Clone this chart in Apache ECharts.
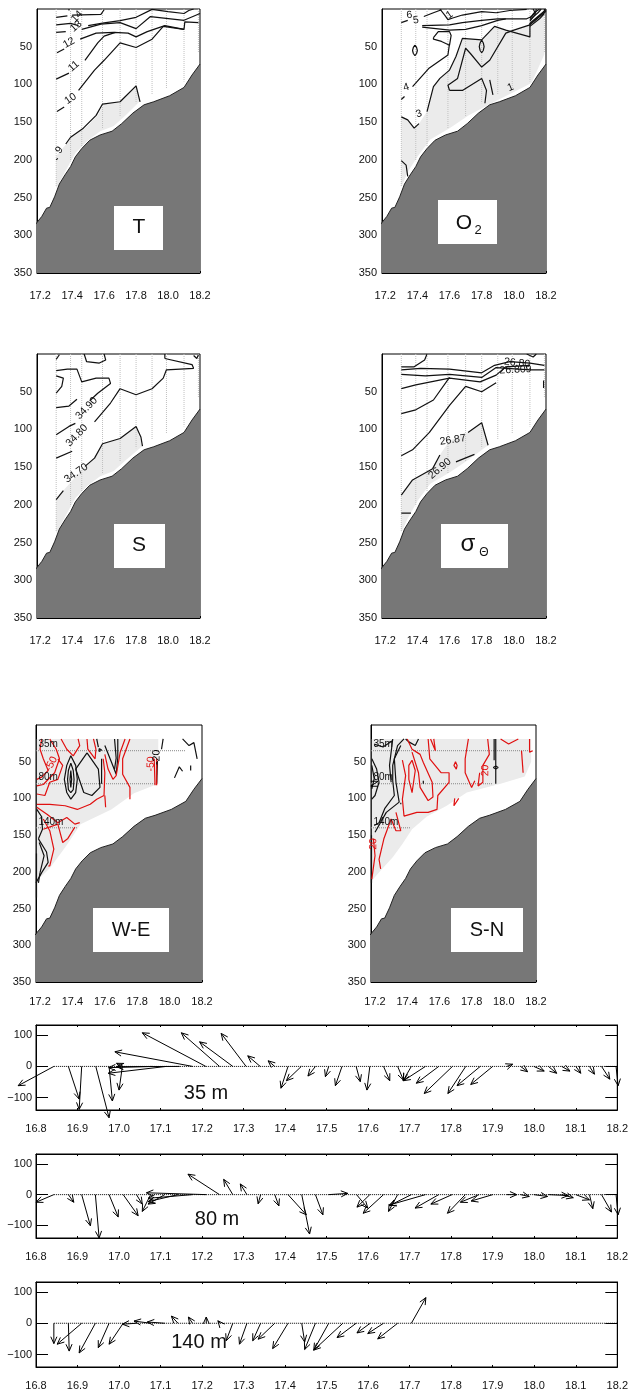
<!DOCTYPE html>
<html><head><meta charset="utf-8">
<style>html,body{margin:0;padding:0;background:#fff}#c{width:631px;height:1395px}</style>
<script src="https://cdn.jsdelivr.net/npm/echarts@6/dist/echarts.min.js"></script>
</head><body><div id="c"></div>
<script>
const sectionLonTicks=[17.2,17.4,17.6,17.8,18.0,18.2];
const depthTicks=[50,100,150,200,250,300,350];
const vectorLonTicks=[16.8,16.9,17.0,17.1,17.2,17.3,17.4,17.5,17.6,17.7,17.8,17.9,18.0,18.1,18.2];
const speedTicks=[-100,0,100];

const bathymetry=[[17.17,286],[17.18,283],[17.21,275],[17.24,264],[17.26,263],[17.29,249],[17.32,232],[17.355,220],[17.39,209],[17.42,196],[17.46,185],[17.51,174],[17.575,167],[17.65,162],[17.71,152],[17.78,138],[17.85,127],[17.91,123],[18.01,115],[18.10,104],[18.15,87.5],[18.2,73]];
const stations=[[17.30,235],[17.39,202],[17.46,182],[17.59,158],[17.70,143],[17.80,125],[17.90,114],[17.99,105],[18.10,96],[18.19,57]];

const tempShade=[[17.30,195],[17.36,180],[17.39,170],[17.48,158],[17.56,141],[17.60,126],[17.70,123],[17.80,102],[17.825,122],[17.74,140],[17.66,155],[17.575,162],[17.50,174],[17.42,191],[17.36,214],[17.30,238]];
const tempContours=[
[[17.30,11],[17.37,9]],[[17.40,8],[17.58,7],[17.60,1]],[[17.38,0],[17.38,2]],
[[17.30,21],[17.39,19],[17.44,22]],[[17.50,22],[17.60,18.5],[17.70,15.5],[17.80,11],[17.90,0.5],[18.0,3.5],[18.10,6],[18.13,2],[18.16,0]],
[[17.30,31],[17.36,30]],[[17.46,27],[17.58,20],[17.70,18],[17.80,26],[17.89,10],[18.10,15],[18.20,6]],
[[17.305,58],[17.35,53]],[[17.45,40],[17.55,32],[17.66,31],[17.75,32],[17.80,37],[17.87,30],[17.98,22],[18.10,27],[18.105,17],[18.19,18]],
[[17.30,93],[17.38,85]],[[17.48,68],[17.56,45],[17.60,36],[17.67,31]],
[[17.305,136],[17.35,130]],[[17.44,108],[17.54,81],[17.60,68],[17.70,45],[17.80,51],[17.90,40],[17.97,23],[18.10,27]],
[[17.36,179],[17.39,170],[17.47,158],[17.55,141],[17.59,126],[17.70,123],[17.80,102],[17.825,123]],[[17.30,200],[17.31,198]]];
const tempLabels=[[17.43,10,'14',0.8],[17.425,23,'13',0.7],[17.38,45,'12',0.5],[17.41,76,'11',0.7],[17.39,119,'10',0.6],[17.32,187,'9',0.9]];

const oxyShade=[[17.30,143],[17.34,147],[17.38,158],[17.41,152],[17.46,136],[17.5,103],[17.54,92],[17.6,81],[17.64,63],[17.68,39],[17.8,41],[17.88,23],[17.95,28],[18.0,28],[18.1,21],[18.19,3],[18.19,60],[18.11,98],[18.0,110],[17.87,124],[17.72,141],[17.6,158],[17.48,173],[17.4,196],[17.34,216],[17.30,236]];
const oxyContours=[
[[17.54,0],[17.57,8],[17.59,14],[17.62,12],[17.68,8],[17.8,3.5],[17.89,5],[17.975,2],[18.08,0.5]],
[[17.30,18],[17.34,15]],[[17.44,10],[17.50,5],[17.55,1]],
[[17.43,22],[17.6,21],[17.68,18],[17.8,15],[17.9,13],[17.97,13],[18.08,13],[18.11,10],[18.14,3],[18.16,0]],
[[17.43,24],[17.6,28],[17.7,27],[17.8,22],[17.9,15],[17.95,13]],
[[17.5,38],[17.53,30],[17.6,30],[17.61,35],[17.6,48],[17.55,43],[17.5,40],[17.5,38]],
[[17.385,48],[17.395,51],[17.40,55],[17.395,59],[17.385,62],[17.375,59],[17.37,55],[17.375,51],[17.385,48]],
[[17.8,41],[17.81,45],[17.815,50],[17.81,55],[17.8,58],[17.79,55],[17.785,50],[17.79,45],[17.8,41]],
[[17.30,120],[17.32,116]],[[17.37,103],[17.47,79],[17.59,61],[17.6,46]],
[[17.30,143],[17.34,147],[17.38,158],[17.41,152]],[[17.46,136],[17.5,103],[17.54,92],[17.6,81],[17.64,63],[17.68,39],[17.8,41],[17.88,23],[17.95,28],[18.1,37],[18.1,19],[18.2,1]],
[[17.6,108],[17.59,101],[17.65,92],[17.7,52],[17.73,59],[17.8,77],[17.85,68],[17.95,32],[18.0,28],[18.1,21],[18.2,3]],
[[17.6,108],[17.68,108],[17.8,92],[17.83,108],[17.82,125]],[[17.85,94],[17.87,114]],
[[18.1,16],[18.13,8],[18.14,0]],[[18.1,14],[18.15,5],[18.17,0]],[[18.1,12],[18.13,4],[18.12,0]],[[18.1,20],[18.15,11],[18.19,3],[18.19,0]],[[18.1,23],[18.16,13],[18.19,6]],
[[17.30,201],[17.33,207],[17.34,222]]];
const oxyLabels=[[17.35,8,'6',0.1],[17.39,15,'5',0.1],[17.6,8,'1',0.6],[17.33,104,'4',0.3],[17.41,139,'3',0.3],[17.98,104,'1',0.4]];

const salShade=[[17.3,193],[17.345,181],[17.48,149],[17.54,138],[17.59,119],[17.70,112],[17.80,96],[17.84,122],[17.74,140],[17.66,155],[17.575,162],[17.50,174],[17.42,191],[17.36,214],[17.30,238]];
const salContours=[
[[17.30,7],[17.32,1]],[[17.475,0],[17.49,10],[17.57,12],[17.61,8],[17.60,0]],[[17.98,0],[17.98,6]],[[18.16,2],[18.18,6],[18.19,1]],
[[17.98,6],[18.15,14],[18.16,19],[17.99,21],[17.97,32],[17.90,46],[17.8,54],[17.7,46],[17.64,65],[17.54,90]],[[17.40,129],[17.30,138]],
[[17.3,29],[17.345,32],[17.335,43],[17.3,52]],
[[17.30,22],[17.37,20],[17.43,20],[17.46,37],[17.55,32],[17.63,32],[17.64,39],[17.56,52],[17.51,62]],
[[17.30,71],[17.38,69],[17.43,60]],
[[17.30,107],[17.38,96],[17.42,92]],
[[17.30,193],[17.345,181]],[[17.48,149],[17.54,138],[17.59,119],[17.70,112],[17.80,96],[17.83,110],[17.84,122]]];
const salLabels=[[17.49,72,'34.90',0.8],[17.43,108,'34.80',0.8],[17.425,158,'34.70',0.6]];

const sigmaShade=[[17.3,187],[17.37,167],[17.495,152],[17.54,134],[17.6,115],[17.715,104],[17.8,91],[17.84,121],[17.72,140],[17.6,157],[17.48,172],[17.4,195],[17.34,218],[17.30,237]];
const sigmaContours=[
[[17.3,17],[17.38,17],[17.445,8],[17.46,0]],
[[17.3,21],[17.42,19],[17.6,20],[17.8,25],[17.88,15],[17.975,10],[18.1,12],[18.19,15]],
[[17.3,27],[17.45,29],[17.6,27],[17.8,31],[17.89,18],[18.1,21],[18.19,21]],
[[17.3,46],[17.39,41],[17.6,32],[17.79,37],[17.89,28],[17.95,17],[18.1,15]],
[[17.3,79],[17.39,74],[17.5,61],[17.6,31]],
[[17.3,135],[17.37,127],[17.475,104],[17.6,68],[17.7,43],[17.8,50],[17.89,38]],
[[17.3,187],[17.37,167],[17.495,152],[17.54,134]],[[17.715,104],[17.8,91],[17.84,121]],
[[17.64,143],[17.755,133]],[[17.3,211],[17.36,211]],
[[18.08,0],[18.12,4],[18.14,0]],[[18.185,35],[18.185,45]]];
const sigmaLabels=[[17.62,114,'26.87',0.15],[17.54,152,'26.90',0.7],[18.02,12,'26.80',-0.1],[18.01,21,'26.809',0.05]];

const weShade=[[17.18,19],[17.93,19],[17.93,80],[17.78,93],[17.64,115],[17.45,135],[17.36,165],[17.26,195],[17.18,212]];
const weBlack=[
[[17.39,42],[17.42,55],[17.43,74],[17.42,92],[17.39,101],[17.365,92],[17.35,74],[17.365,55],[17.39,42]],
[[17.39,52],[17.405,62],[17.41,74],[17.405,88],[17.39,92],[17.375,88],[17.37,74],[17.375,62],[17.39,52]],
[[17.39,62],[17.395,74],[17.39,85],[17.385,74],[17.39,62]],
[[17.49,38],[17.42,60],[17.47,92],[17.52,96],[17.57,85],[17.56,60],[17.49,38]],
[[17.58,46],[17.58,80]],[[17.55,19],[17.56,30]],
[[17.6,28],[17.64,50],[17.67,67],[17.68,45],[17.68,19]],[[17.66,19],[17.67,45],[17.66,60]],
[[17.565,32],[17.58,34],[17.565,36],[17.555,34],[17.565,32]],
[[17.925,49],[17.92,80]],[[17.96,19],[17.95,33]],[[18.08,19],[18.12,28],[18.15,24],[18.17,46]],
[[18.03,72],[18.06,57],[18.08,63]],[[18.13,55],[18.13,62]],
[[17.18,115],[17.21,125],[17.215,142],[17.19,155]],[[17.19,155],[17.24,173],[17.25,187],[17.21,201],[17.175,215]],
[[17.195,160],[17.225,178],[17.2,201]],[[17.2,201],[17.19,215]],[[17.178,175],[17.178,235]]];
const weRed=[
[[17.26,19],[17.30,33],[17.32,46],[17.29,65],[17.22,81],[17.18,83]],
[[17.21,19],[17.2,33],[17.22,46],[17.25,62],[17.21,71],[17.18,74]],
[[17.33,19],[17.365,33],[17.405,42],[17.445,28],[17.435,19]],
[[17.49,19],[17.495,33],[17.54,46],[17.545,33],[17.53,19]],
[[17.18,94],[17.23,96],[17.26,78],[17.31,74],[17.34,55],[17.31,46]],
[[17.18,108],[17.26,108],[17.355,110],[17.43,115],[17.51,108],[17.55,101],[17.595,96],[17.6,65],[17.59,46]],
[[17.725,19],[17.695,37],[17.67,69],[17.65,74],[17.62,60],[17.6,40]],
[[17.755,19],[17.71,46],[17.71,67],[17.755,85],[17.755,101]],
[[17.6,96],[17.605,112]],
[[17.18,112],[17.245,122],[17.31,133],[17.365,126],[17.415,135],[17.445,133]],
[[17.22,142],[17.31,135],[17.34,160],[17.37,155],[17.415,139]],
[[17.22,128],[17.26,144],[17.285,169],[17.26,192],[17.25,192]],
[[17.905,46],[17.91,82]],[[17.92,46],[17.92,82]]];
const weLabels=[[17.27,53,'-50',1.1,'#e01010'],[17.885,53,'-50',1.57,'#e01010'],[17.92,44,'-20',1.57,'#000']];

const snShade=[[17.18,19],[18.17,19],[18.17,50],[18.13,70],[17.98,80],[17.77,92],[17.645,110],[17.52,125],[17.43,142],[17.37,162],[17.31,180],[17.235,198],[17.18,212]];
const snBlack=[
[[17.18,46],[17.21,60],[17.225,78],[17.2,96],[17.18,101]],[[17.18,55],[17.195,73],[17.18,87]],
[[17.38,19],[17.34,28],[17.31,55],[17.31,76],[17.32,96],[17.26,114],[17.225,133],[17.195,137]],
[[17.36,28],[17.32,46],[17.33,78],[17.35,105],[17.27,119],[17.2,146]],
[[17.31,19],[17.29,55],[17.3,78]],[[17.47,19],[17.45,28],[17.41,23],[17.39,19]],
[[17.195,26],[17.25,30],[17.31,21]],[[17.95,19],[17.95,80]],[[17.94,19],[17.94,48]],
[[17.95,56],[17.965,58],[17.95,60],[17.935,58],[17.95,56]],[[17.178,150],[17.178,215]],
[[17.5,76],[17.5,80]],[[17.36,106],[17.36,108]]];
const snRed=[
[[17.4,19],[17.43,33],[17.48,40],[17.5,51],[17.555,78],[17.56,98],[17.53,103],[17.48,85],[17.47,65],[17.43,37]],
[[17.43,48],[17.45,62],[17.43,92],[17.41,74],[17.41,55],[17.43,48]],
[[17.37,48],[17.39,69],[17.37,101],[17.38,124],[17.46,119],[17.53,119],[17.585,115],[17.59,96],[17.66,78],[17.66,65],[17.61,65],[17.54,46],[17.53,19]],
[[17.565,19],[17.575,35],[17.545,19]],
[[17.78,19],[17.76,46],[17.76,65],[17.8,85],[17.82,76]],
[[17.9,19],[17.91,40],[17.87,55],[17.87,78],[17.84,83],[17.85,65]],
[[18.11,35],[18.12,65]],[[17.98,19],[18.03,26],[18.09,19]],[[18.16,19],[18.16,37],[18.18,35]],
[[17.7,50],[17.71,55],[17.705,60],[17.69,55],[17.7,50]],[[17.72,100],[17.69,110],[17.695,100]],
[[17.33,119],[17.36,144],[17.33,144],[17.30,128],[17.255,155],[17.225,183],[17.235,196]],
[[17.19,155],[17.2,178],[17.18,210]]];
const snLabels=[[17.885,62,'20',1.57,'#e01010'],[17.19,162,'20',1.57,'#e01010'],[17.2,80,'N',1.57,'#000']];

const weDepthLines=[[35,18.1],[80,17.92],[140,17.43]];
const snDepthLines=[[35,18.17],[80,17.93],[140,17.42]];
const depthLineNames=[[17.19,26,'35m'],[17.19,71,'80m'],[17.19,132,'140m']];

const arrows35=[[16.843,16.757,-62],[16.878,16.904,-105],[16.910,16.904,-138],[16.944,16.976,-165],[16.976,16.984,-111],[17.008,17.000,-76],[17.01,16.994,10],[17.146,16.994,-1],[17.114,16.974,-22],[17.08,16.975,-4],[17.177,16.990,47],[17.209,17.056,108],[17.242,17.150,108],[17.274,17.194,79],[17.306,17.246,106],[17.340,17.310,34],[17.375,17.359,18],[17.407,17.390,-70],[17.439,17.403,-46],[17.473,17.455,-31],[17.505,17.497,-33],[17.537,17.521,-62],[17.571,17.581,-49],[17.604,17.597,-76],[17.637,17.652,-46],[17.671,17.685,-44],[17.704,17.684,-46],[17.738,17.685,-46],[17.770,17.716,-54],[17.803,17.735,-87],[17.835,17.792,-87],[17.870,17.814,-62],[17.900,17.847,-58],[17.934,17.948,7],[17.967,17.984,-17],[17.999,18.024,-15],[18.034,18.054,-22],[18.066,18.086,-15],[18.100,18.112,-22],[18.133,18.145,-25],[18.162,18.182,-41],[18.197,18.202,-62]];
const arrows80=[[16.843,16.8,-25],[16.878,16.891,-25],[16.910,16.931,-102],[16.943,16.952,-142],[16.976,16.998,-73],[17.010,17.046,-69],[17.042,17.056,-31],[17.076,17.056,-55],[17.110,17.070,-31],[17.142,17.070,-23],[17.177,17.070,-12],[17.210,17.066,6],[17.242,17.166,67],[17.274,17.252,50],[17.308,17.292,35],[17.341,17.335,-30],[17.375,17.385,-37],[17.407,17.451,-66],[17.440,17.459,-129],[17.473,17.491,-66],[17.505,17.551,4],[17.604,17.573,-41],[17.572,17.599,-44],[17.637,17.588,-61],[17.671,17.649,-55],[17.704,17.651,-36],[17.738,17.651,-34],[17.770,17.713,-44],[17.802,17.751,-31],[17.834,17.791,-61],[17.867,17.822,-25],[17.900,17.848,-21],[17.934,17.958,0],[17.967,17.988,-6],[17.999,18.032,-6],[18.034,18.082,-3],[18.066,18.094,-10],[18.100,18.133,-17],[18.133,18.141,-46],[18.162,18.186,-57],[18.197,18.202,-66]];
const arrows140=[[16.843,16.843,-65],[16.910,16.851,-67],[16.878,16.880,-89],[16.943,16.904,-95],[16.976,16.950,-78],[17.010,16.976,-67],[17.042,17.008,-3],[17.076,17.036,7],[17.110,17.068,4],[17.142,17.126,23],[17.177,17.167,20],[17.210,17.210,20],[17.243,17.238,8],[17.274,17.258,-56],[17.308,17.290,-67],[17.341,17.322,-56],[17.375,17.335,-51],[17.407,17.370,-81],[17.440,17.447,-60],[17.473,17.447,-84],[17.505,17.469,-86],[17.539,17.469,-86],[17.571,17.525,-46],[17.605,17.573,-31],[17.637,17.599,-33],[17.671,17.623,-50],[17.704,17.739,82]];
const vectorStarts=[16.843,16.843,16.843];

const FONT='"Liberation Sans",Helvetica,Arial,sans-serif';
const INK='#111', RED='#e01010', SHADE='#ebebeb', LW=1.2;
const sections=[
 {l:37,r:200,t:9,b:273,min:17.18,m:17,shade:tempShade,lines:tempContours,labels:tempLabels,st:true},
 {l:382,r:546,t:9,b:273,min:17.18,m:17,shade:oxyShade,lines:oxyContours,labels:oxyLabels,st:true},
 {l:37,r:200,t:354,b:618,min:17.18,m:17,shade:salShade,lines:salContours,labels:salLabels,st:true},
 {l:382,r:546,t:354,b:618,min:17.18,m:17,shade:sigmaShade,lines:sigmaContours,labels:sigmaLabels,st:true},
 {l:36,r:202,t:725,b:982,min:17.175,m:14,shade:weShade,lines:weBlack,red:weRed,labels:weLabels,dl:weDepthLines},
 {l:371,r:536,t:725,b:982,min:17.175,m:14,shade:snShade,lines:snBlack,red:snRed,labels:snLabels,dl:snDepthLines}
];
const vectors=[
 {t:1025,b:1110,ymin:-140,ymax:133,a:arrows35},
 {t:1154,b:1238,ymin:-142,ymax:133,a:arrows80},
 {t:1282,b:1367,ymin:-140,ymax:132,a:arrows140}
];
const W=631,H=1395;
const grid=[],xAxis=[],yAxis=[],series=[];
const lab={fontFamily:FONT,fontSize:11,color:'#111'};
const base={animation:false,silent:true};
function addLine(gi,data,color,width,type,z){
 series.push({...base,type:'line',xAxisIndex:gi,yAxisIndex:gi,data,symbol:'none',showSymbol:false,z,
  lineStyle:{color,width,type:type||'solid'},clip:true});
}
function addPoly(gi,pts,fill,z){
 series.push({...base,type:'custom',xAxisIndex:gi,yAxisIndex:gi,data:pts,encode:{x:0,y:1},z,
  renderItem(p,api){ if(p.dataIndex!==0) return null;
   return {type:'polygon',shape:{points:pts.map(q=>api.coord(q))},style:{fill,stroke:null}}; }});
}
function addTexts(gi,items,size,z){
 series.push({...base,type:'custom',xAxisIndex:gi,yAxisIndex:gi,data:items.map(q=>[q[0],q[1]]),encode:{x:0,y:1},z,
  renderItem(p,api){ const q=items[p.dataIndex], c=api.coord([q[0],q[1]]);
   return {type:'text',x:c[0],y:c[1],rotation:q[3]||0,style:{text:q[2],fill:q[4]||'#111',font:size+'px '+FONT,align:q[5]||'center',verticalAlign:'middle'}}; }});
}
sections.forEach((s,i)=>{
 grid.push({left:s.l,top:s.t,width:s.r-s.l,height:s.b-s.t,show:true,borderColor:'#000',borderWidth:1,containLabel:false});
 xAxis.push({type:'value',gridIndex:i,min:s.min,max:18.2,position:'bottom',splitLine:{show:false},
  axisLine:{onZero:false,lineStyle:{color:'#000',width:1}},
  axisTick:{show:true,inside:true,length:2,customValues:sectionLonTicks,lineStyle:{color:'#000'}},
  axisLabel:{...lab,margin:s.m,customValues:sectionLonTicks,formatter:v=>v.toFixed(1),showMinLabel:true,showMaxLabel:true}});
 yAxis.push({type:'value',gridIndex:i,inverse:true,min:0,max:350,position:'left',splitLine:{show:false},
  axisLine:{onZero:false,lineStyle:{color:'#000',width:1}},axisTick:{show:false},
  axisLabel:{...lab,margin:5,customValues:depthTicks}});
 addPoly(i,s.shade,SHADE,1);
 if(s.st) stations.forEach(q=>addLine(i,[[q[0],0],[q[0],q[1]]],'#c0c0c0',1,'dotted',2));
 if(s.dl) s.dl.forEach(q=>addLine(i,[[s.min,q[0]],[q[1],q[0]]],'#888',1,'dotted',3));
 s.lines.forEach(l=>addLine(i,l,INK,LW,'solid',4));
 if(s.red) s.red.forEach(l=>addLine(i,l,RED,LW,'solid',4));
 series.push({...base,type:'line',xAxisIndex:i,yAxisIndex:i,data:bathymetry,symbol:'none',showSymbol:false,z:5,clip:true,
  lineStyle:{color:'#222',width:1},areaStyle:{color:'#777777',opacity:1,origin:'end'}});
 addTexts(i,s.labels,10.5,6);
 if(s.dl) addTexts(i,depthLineNames.map(q=>[q[0],q[1],q[2],0,'#111','left']),10,6);
});
vectors.forEach((v,k)=>{
 const i=sections.length+k;
 grid.push({left:36,top:v.t,width:582,height:v.b-v.t,show:true,borderColor:'#000',borderWidth:1});
 xAxis[i]={type:'value',gridIndex:i,min:16.8,max:18.2,position:'bottom',splitLine:{show:false},
  axisLine:{onZero:false,lineStyle:{color:'#000',width:1}},
  axisTick:{inside:true,length:2,customValues:vectorLonTicks,lineStyle:{color:'#000'}},
  axisLabel:{...lab,margin:13,customValues:vectorLonTicks,formatter:x=>x.toFixed(1),showMinLabel:true,showMaxLabel:true}};
 yAxis[i]={type:'value',gridIndex:i,min:v.ymin,max:v.ymax,position:'left',splitLine:{show:false},
  axisLine:{onZero:false,lineStyle:{color:'#000',width:1}},
  axisTick:{inside:true,length:12,customValues:speedTicks,lineStyle:{color:'#000'}},
  axisLabel:{...lab,margin:4,customValues:speedTicks,formatter:x=>String(x).replace('-','\u2212')}};
 addLine(i,[[vectorStarts[k],0],[18.2,0]],'#000',1,'dotted',2);
 series.push({...base,type:'custom',xAxisIndex:i,yAxisIndex:i,data:v.a,encode:{x:[0,1],y:2},z:4,clip:false,
  renderItem(p,api){
   const a=api.coord([api.value(0),0]), b=api.coord([api.value(1),api.value(2)]);
   const ang=Math.atan2(a[1]-b[1],a[0]-b[0]), L=7.5, S=0.42;
   const h1=[b[0]+L*Math.cos(ang+S),b[1]+L*Math.sin(ang+S)], h2=[b[0]+L*Math.cos(ang-S),b[1]+L*Math.sin(ang-S)];
   return {type:'group',children:[
    {type:'line',shape:{x1:a[0],y1:a[1],x2:b[0],y2:b[1]},style:{stroke:'#000',lineWidth:1}},
    {type:'polyline',shape:{points:[h1,b,h2]},style:{stroke:'#000',fill:null,lineWidth:1}}]};
  }});
});
vectors.forEach((v,k)=>{
 const i=sections.length+k;
 yAxis.push({type:'value',gridIndex:i,min:v.ymin,max:v.ymax,position:'right',splitLine:{show:false},
  axisLine:{onZero:false,lineStyle:{color:'#000'}},axisTick:{inside:true,length:12,customValues:speedTicks,lineStyle:{color:'#000'}},axisLabel:{show:false}});
 xAxis.push({type:'value',gridIndex:i,min:16.8,max:18.2,position:'top',splitLine:{show:false},
  axisLine:{onZero:false,lineStyle:{color:'#000'}},axisTick:{inside:true,length:2,customValues:vectorLonTicks,lineStyle:{color:'#000'}},axisLabel:{show:false}});
});
function box(x0,y0,x1,y1){return {type:'rect',z:50,shape:{x:x0,y:y0,width:x1-x0,height:y1-y0},style:{fill:'#fff'},silent:true};}
function txt(x,y,t,size,align){return {type:'text',z:51,x,y,silent:true,style:{text:t,fill:'#111',font:size+'px '+FONT,align:align||'center',verticalAlign:'middle'}};}
const graphic=[
 box(114,206,163,250),txt(139,227,'T',21),
 box(438,200,497,244),txt(464,223,'O',21),txt(478,230,'2',13),
 box(114,524,165,568),txt(139,545,'S',21),
 box(441,524,508,568),txt(468,544,'\u03C3',24),txt(484,553,'\u0398',12),
 box(93,908,169,952),txt(131,930,'W-E',20),
 box(451,908,523,952),txt(487,930,'S-N',20),
 txt(206,1093,'35 m',20),txt(217,1219,'80 m',20),txt(199,1342,'140 m',20)
];
const chart=echarts.init(document.getElementById('c'),null,{renderer:'canvas',width:W,height:H});
chart.setOption({animation:false,backgroundColor:'#fff',textStyle:{fontFamily:FONT},grid,xAxis,yAxis,series,graphic:{elements:graphic}});
</script></body></html>
